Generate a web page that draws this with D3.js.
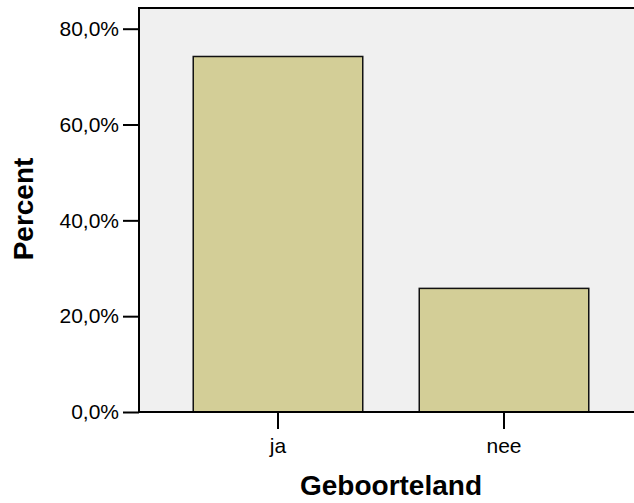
<!DOCTYPE html>
<html>
<head>
<meta charset="utf-8">
<script src="https://cdn.jsdelivr.net/npm/d3@7"></script>
<style>
  body { margin: 0; background: #fff; }
  text { font-family: Arial, "Liberation Sans", sans-serif; }
</style>
</head>
<body>
<div id="svg-container"></div>
<script>
// data
var categories = ["ja", "nee"]
var percents = [74.2, 25.8]
var yTicks = [0, 20, 40, 60, 80]

var width = 634
var height = 503

var svg = d3.select("#svg-container")
    .append("svg")
    .attr("width", width)
    .attr("height", height)

var plotLeft = 139, plotRight = 643, plotTop = 8, plotBottom = 412

var xScale = d3.scaleBand()
    .domain(categories)
    .range([plotLeft, plotRight])
    .paddingInner(0.25)
    .paddingOuter(0.24)

var yScale = d3.scaleLinear()
    .domain([0, 80])
    .range([plotBottom, 28.7])

// plot background
svg.append("rect")
    .attr("x", plotLeft)
    .attr("y", plotTop)
    .attr("width", plotRight - plotLeft)
    .attr("height", plotBottom - plotTop)
    .attr("fill", "#f0f0f0")

// bars
svg.selectAll(".bar")
    .data(percents)
    .enter()
    .append("rect")
    .attr("class", "bar")
    .attr("x", (d, i) => xScale(categories[i]))
    .attr("y", (d) => yScale(d))
    .attr("width", xScale.bandwidth())
    .attr("height", (d) => plotBottom - yScale(d))
    .attr("fill", "#d3ce97")
    .attr("stroke", "#111")
    .attr("stroke-width", 1.5)

// frame: left and top lines
svg.append("path")
    .attr("d", "M" + plotLeft + "," + plotBottom + " V" + plotTop + " H" + plotRight)
    .attr("fill", "none")
    .attr("stroke", "#000")
    .attr("stroke-width", 2)

// y axis
var yAxis = d3.axisLeft(yScale)
    .tickValues(yTicks)
    .tickSize(16)
    .tickPadding(4)
    .tickFormat((d) => d3.format(".1f")(d).replace(".", ",") + "%")

var gy = svg.append("g")
    .attr("transform", "translate(" + plotLeft + ",0)")
    .call(yAxis)
gy.select(".domain").remove()
gy.selectAll(".tick line").attr("stroke", "#000").attr("stroke-width", 2)
gy.selectAll(".tick text")
    .attr("font-size", "21px")
    .attr("fill", "#000")
    .attr("font-family", "Arial, 'Liberation Sans', sans-serif")

// x axis
var xAxis = d3.axisBottom(xScale)
    .tickSize(17)
    .tickPadding(9)

var gx = svg.append("g")
    .attr("transform", "translate(0," + plotBottom + ")")
    .call(xAxis)
gx.select(".domain")
    .attr("d", "M" + plotLeft + ",0 H" + plotRight)
    .attr("stroke", "#000")
    .attr("stroke-width", 2)
gx.selectAll(".tick line").attr("stroke", "#000").attr("stroke-width", 2)
gx.selectAll(".tick text")
    .attr("font-size", "21px")
    .attr("fill", "#000")
    .attr("font-family", "Arial, 'Liberation Sans', sans-serif")

// axis titles
svg.append("text")
    .attr("x", (plotLeft + plotRight) / 2)
    .attr("y", 495)
    .attr("text-anchor", "middle")
    .attr("font-size", "28px")
    .attr("font-weight", "bold")
    .text("Geboorteland")

svg.append("text")
    .attr("transform", "translate(33,209) rotate(-90)")
    .attr("text-anchor", "middle")
    .attr("font-size", "28px")
    .attr("font-weight", "bold")
    .text("Percent")
</script>
</body>
</html>
